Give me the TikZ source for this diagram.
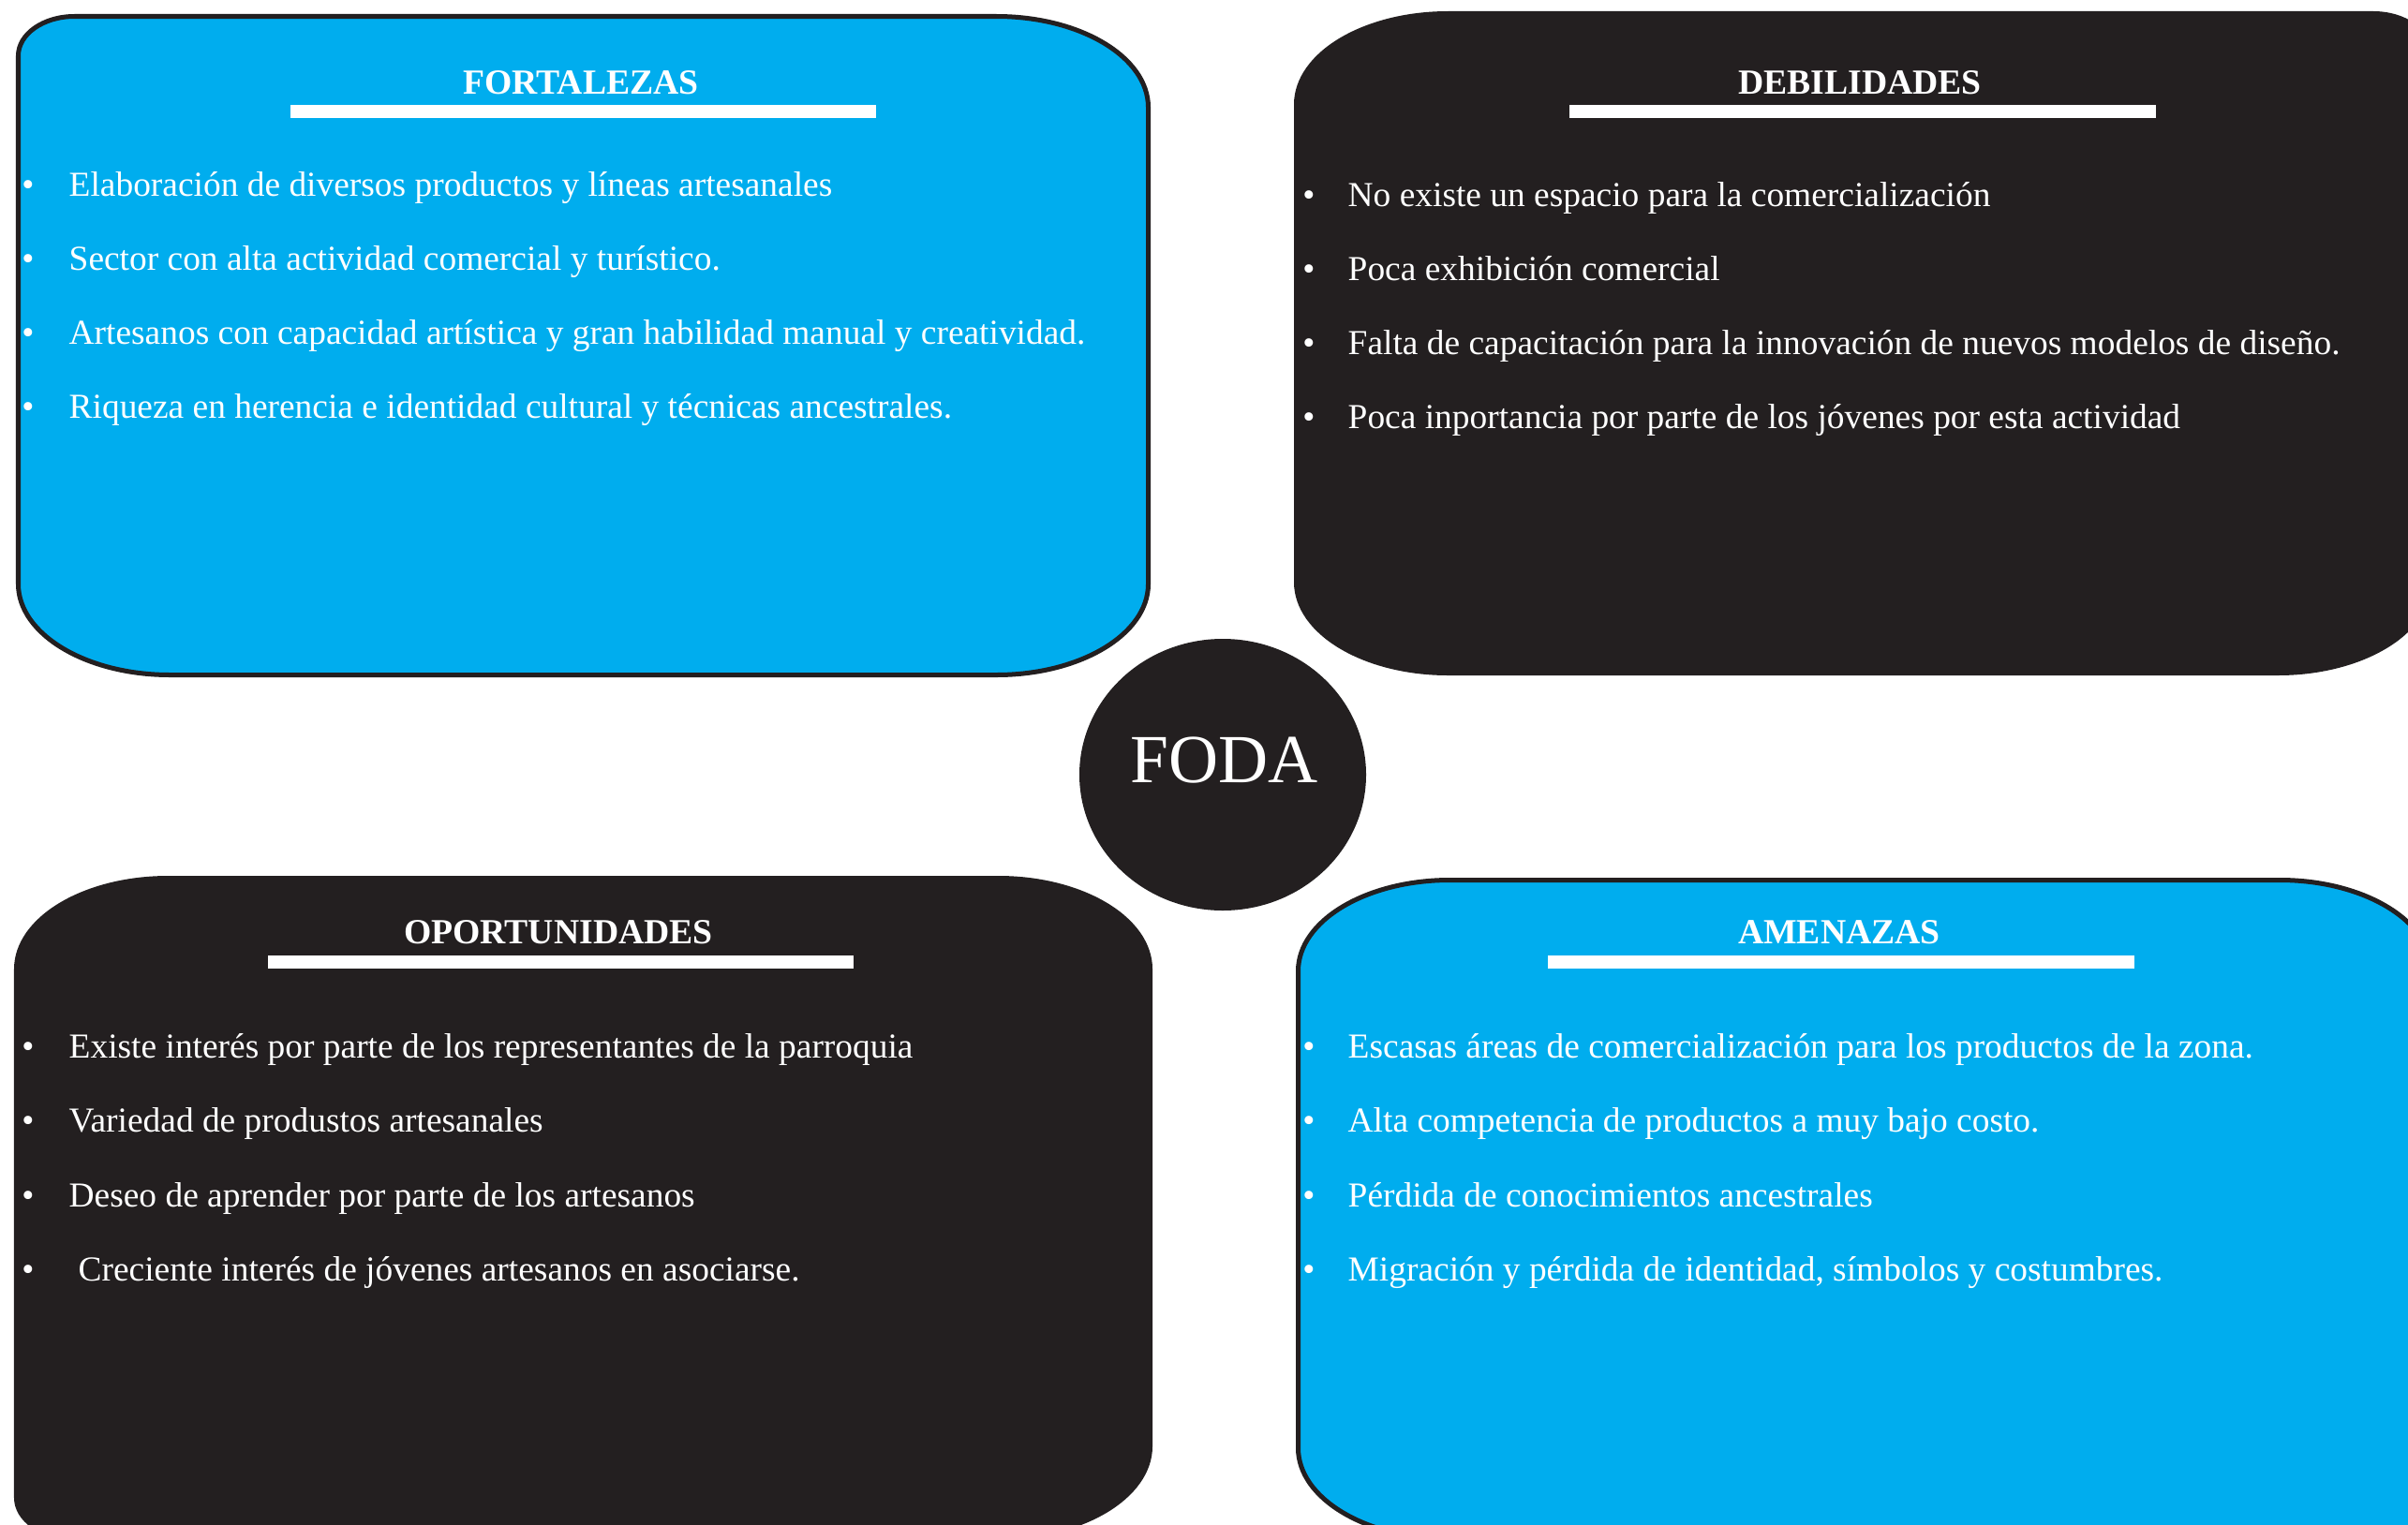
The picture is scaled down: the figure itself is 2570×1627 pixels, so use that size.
\documentclass[tikz,border=0pt]{standalone}
\usepackage{fontspec}
\setmainfont{Liberation Serif}
\definecolor{fodablue}{HTML}{00ADEE}
\definecolor{fodadark}{HTML}{231F20}
\def\rxb{162}\def\ryb{97}\def\rxs{60}\def\rys{42}
\def\kk{0.5523}
% #1 style, #2 x1, #3 y1, #4 x2, #5 y2, corners #6 TL, #7 TR, #8 BR, #9 BL (b or s)
\newcommand{\rbox}[9]{%
  \edef\ax{\csname rx#6\endcsname}\edef\ay{\csname ry#6\endcsname}%
  \edef\bx{\csname rx#7\endcsname}\edef\by{\csname ry#7\endcsname}%
  \edef\cx{\csname rx#8\endcsname}\edef\cy{\csname ry#8\endcsname}%
  \edef\dx{\csname rx#9\endcsname}\edef\dy{\csname ry#9\endcsname}%
  \path[#1] (#2,{#3+\ay}) .. controls (#2,{#3+\ay-\kk*\ay}) and ({#2+\ax-\kk*\ax},#3) .. ({#2+\ax},#3)
   -- ({#4-\bx},#3) .. controls ({#4-\bx+\kk*\bx},#3) and (#4,{#3+\by-\kk*\by}) .. (#4,{#3+\by})
   -- (#4,{#5-\cy}) .. controls (#4,{#5-\cy+\kk*\cy}) and ({#4-\cx+\kk*\cx},#5) .. ({#4-\cx},#5)
   -- ({#2+\dx},#5) .. controls ({#2+\dx-\kk*\dx},#5) and (#2,{#5-\dy+\kk*\dy}) .. (#2,{#5-\dy}) -- cycle;
}
\tikzset{
  bluebox/.style={fill=fodablue, draw=fodadark, line width=0.05cm},
  darkbox/.style={fill=fodadark, draw=fodadark, line width=0.05cm},
  bar/.style={fill=white},
  ttl/.style={text=white, font=\fontsize{10.72pt}{12pt}\selectfont\bfseries, inner sep=0pt, anchor=base},
  itm/.style={text=white, font=\fontsize{10.64pt}{12pt}\selectfont, inner sep=0pt, anchor=base west},
  bul/.style={text=white, font=\fontsize{10.64pt}{12pt}\selectfont, inner sep=0pt, anchor=base},
}
\begin{document}
\begin{tikzpicture}[x=0.01cm, y=-0.01cm]
\useasboundingbox (0,0) rectangle (2570,1627);
\clip (0,0) rectangle (2570,1627);
\fill[white] (0,0) rectangle (2570,1627);

% ---------- FORTALEZAS ----------
\rbox{bluebox}{19.5}{17.5}{1225.5}{720.5}{s}{b}{b}{b}
\node[ttl] (tF) at (620,100) {FORTALEZAS};
\fill[bar] (310,112) rectangle (935,126);
\foreach \t [count=\i] in {Elaboración de diversos productos y líneas artesanales,
  Sector con alta actividad comercial y turístico.,
  Artesanos con capacidad artística y gran habilidad manual y creatividad.,
  Riqueza en herencia e identidad cultural y técnicas ancestrales.}{
  \node[bul] (bF\i) at (30,{209+79*(\i-1)}) {•};
  \node[itm] (iF\i) at (73,{209+79*(\i-1)}) {\t};
}

% ---------- DEBILIDADES ----------
\rbox{darkbox}{1383.5}{14.5}{2593}{718.5}{b}{s}{b}{b}
\node[ttl] (tD) at (1985,100) {DEBILIDADES};
\fill[bar] (1675,112) rectangle (2301,126);
\foreach \t [count=\i] in {No existe un espacio para la comercialización,
  Poca exhibición comercial,
  Falta de capacitación para la innovación de nuevos modelos de diseño.,
  Poca inportancia por parte de los jóvenes por esta actividad}{
  \node[bul] (bD\i) at (1397,{220+79*(\i-1)}) {•};
  \node[itm] (iD\i) at (1438,{220+79*(\i-1)}) {\t};
}

% ---------- OPORTUNIDADES ----------
\rbox{darkbox}{17.5}{937.5}{1227.5}{1641}{b}{b}{b}{s}
\node[ttl] (tO) at (596,1007) {OPORTUNIDADES};
\fill[bar] (286,1020) rectangle (911,1034);
\foreach \t/\xx [count=\i] in {Existe interés por parte de los representantes de la parroquia/73,
  Variedad de produstos artesanales/73,
  Deseo de aprender por parte de los artesanos/73,
  Creciente interés de jóvenes artesanos en asociarse./83}{
  \node[bul] (bO\i) at (30,{1129+79.5*(\i-1)}) {•};
  \node[itm] (iO\i) at (\xx,{1129+79.5*(\i-1)}) {\t};
}

% ---------- AMENAZAS ----------
\rbox{bluebox}{1385.5}{939.5}{2595}{1643}{b}{b}{s}{b}
\node[ttl] (tA) at (1963,1007) {AMENAZAS};
\fill[bar] (1652,1020) rectangle (2278,1034);
\foreach \t [count=\i] in {Escasas áreas de comercialización para los productos de la zona.,
  Alta competencia de productos a muy bajo costo.,
  Pérdida de conocimientos ancestrales,
  {Migración y pérdida de identidad, símbolos y costumbres.}}{
  \node[bul] (bA\i) at (1397,{1129+79.5*(\i-1)}) {•};
  \node[itm] (iA\i) at (1438,{1129+79.5*(\i-1)}) {\t};
}

% ---------- FODA ----------
\fill[fodadark] (1305,827) ellipse [x radius=153, y radius=145];
\node[text=white, font=\fontsize{20.9pt}{24pt}\selectfont, inner sep=0pt, anchor=base] (foda) at (1307,835) {FODA};
\end{tikzpicture}
\end{document}
